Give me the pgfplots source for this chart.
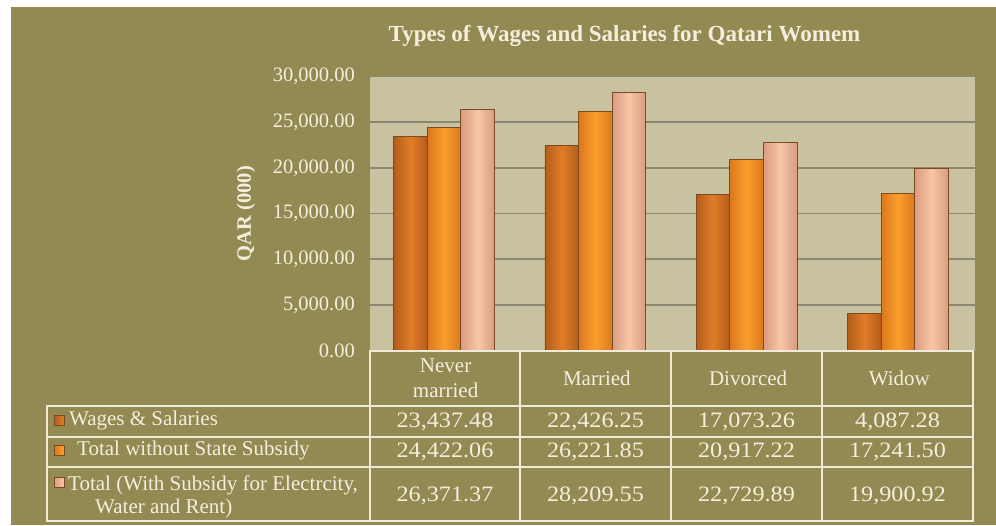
\documentclass[border=0pt]{standalone}
\usepackage{pgfplots}
\pgfplotsset{compat=1.18}
\usepackage{fontspec}
\setmainfont{Liberation Serif}
\newfontfamily\numfont[FakeStretch=1.1]{Liberation Serif}
\definecolor{olivebg}{HTML}{928953}
\definecolor{plotbg}{HTML}{C9C2A0}
\definecolor{gridc}{HTML}{8C8870}
\definecolor{cream}{HTML}{F4EFDC}
\definecolor{tline}{HTML}{F0EADA}
\definecolor{barline}{HTML}{7A4A22}
\definecolor{bA}{HTML}{E07D26}
\definecolor{bAd}{HTML}{B35D1C}
\definecolor{bB}{HTML}{FB9E2E}
\definecolor{bBd}{HTML}{DC781C}
\definecolor{bC}{HTML}{F8C6A8}
\definecolor{bCd}{HTML}{DA9C80}
\tikzset{
  sA/.style={ybar, bar width=0.222, bar shift=-0.232, draw=barline, line width=0.9pt,
    left color=bAd, right color=bAd, middle color=bA},
  sB/.style={ybar, bar width=0.222, bar shift=-0.010, draw=barline, line width=0.9pt,
    left color=bBd, right color=bBd, middle color=bB},
  sC/.style={ybar, bar width=0.222, bar shift=0.212, draw=barline, line width=0.9pt,
    left color=bCd, right color=bCd, middle color=bC},
}
\begin{document}
\begin{tikzpicture}
\begin{scope}[x=1pt, y=1pt, shift={(-370pt,-174.5pt)}]
\fill[white] (0,0) rectangle (996,525);
\fill[olivebg] (11,0) rectangle (996,518);
\end{scope}
\begin{axis}[
  anchor=south west,
  scale only axis, width=605pt, height=274pt,
  xmin=-0.5, xmax=3.5, ymin=0, ymax=30000,
  ytick={0,5000,...,30000},
  xtick={0,1,2,3},
  xticklabels={{Never\\married},Married,Divorced,Widow},
  xticklabel style={align=center, anchor=center, inner sep=0pt, yshift=-27.5pt,
    text=cream, font=\fontsize{21}{25}\selectfont},
  axis background/.style={fill=plotbg},
  axis line style={draw=none},
  ymajorgrids, grid style={draw=gridc, line width=1.5pt},
  major tick length=0pt,
  scaled y ticks=false,
  yticklabel style={/pgf/number format/.cd, fixed, fixed zerofill, precision=2,
    1000 sep={,}, assume math mode=true, /tikz/.cd,
    anchor=east, inner sep=0pt, xshift=-15pt, text=cream,
    font=\fontsize{20.5}{24}\selectfont},
  ylabel={QAR (000)},
  ylabel style={at={(axis description cs:-0.205,0.5)}, anchor=center,
    text=cream, font=\bfseries\fontsize{20.5}{24}\selectfont},
  title={Types of Wages and Salaries for Qatari Womem},
  title style={at={(axis description cs:0.4207,1)}, anchor=base, yshift=28.8pt,
    text=cream, font=\bfseries\fontsize{23}{27}\selectfont},
]
% Wages & Salaries
\addplot[sA] coordinates {(0,23437.48)};
\addplot[sA] coordinates {(1,22426.25)};
\addplot[sA] coordinates {(2,17073.26)};
\addplot[sA] coordinates {(3,4087.28)};
% Total without State Subsidy
\addplot[sB] coordinates {(0,24422.06)};
\addplot[sB] coordinates {(1,26221.85)};
\addplot[sB] coordinates {(2,20917.22)};
\addplot[sB] coordinates {(3,17241.50)};
% Total (With Subsidy for Electricity, Water and Rent)
\addplot[sC] coordinates {(0,26371.37)};
\addplot[sC] coordinates {(1,28209.55)};
\addplot[sC] coordinates {(2,22729.89)};
\addplot[sC] coordinates {(3,19900.92)};
\end{axis}
\begin{scope}[x=1pt, y=1pt, shift={(-370pt,-174.5pt)}]
% data table grid
\begin{scope}[draw=tline, line width=2pt]
\draw (369,174) -- (974,174);
\draw (46,119) -- (974,119);
\draw (46,88.5) -- (974,88.5);
\draw (46,58.5) -- (974,58.5);
\draw (46,4.5) -- (974,4.5);
\draw (47,3.5) -- (47,120);
\foreach \xx in {370,520,671,822,973} {\draw (\xx,3.5) -- (\xx,175);}
\end{scope}
% legend keys
\shade[left color=bAd, right color=bA, draw=barline, line width=0.5pt] (54,100) rectangle (64,110);
\shade[left color=bBd, right color=bB, draw=barline, line width=0.5pt] (54,69.5) rectangle (64,79.5);
\shade[left color=bCd, right color=bC, draw=barline, line width=0.5pt] (54,38) rectangle (64,48);
\begin{scope}[every node/.style={text=cream, inner sep=0pt, font=\fontsize{21}{25}\selectfont}]
\node[anchor=base west] at (69,100) {Wages \& Salaries};
\node[anchor=base west] at (77,70) {Total without State Subsidy};
\node[anchor=base west] at (68,35) {Total (With Subsidy for Electrcity,};
\node[anchor=base west] at (95,12) {Water and Rent)};
\end{scope}
\begin{scope}[every node/.style={text=cream, inner sep=0pt, anchor=base, font=\numfont\fontsize{22}{25}\selectfont}]
\node at (445,98) {23,437.48};
\node at (595.5,98) {22,426.25};
\node at (746.5,98) {17,073.26};
\node at (897.5,98) {4,087.28};
\node at (445,68) {24,422.06};
\node at (595.5,68) {26,221.85};
\node at (746.5,68) {20,917.22};
\node at (897.5,68) {17,241.50};
\node at (445,24) {26,371.37};
\node at (595.5,24) {28,209.55};
\node at (746.5,24) {22,729.89};
\node at (897.5,24) {19,900.92};
\end{scope}
\end{scope}
\end{tikzpicture}
\end{document}
